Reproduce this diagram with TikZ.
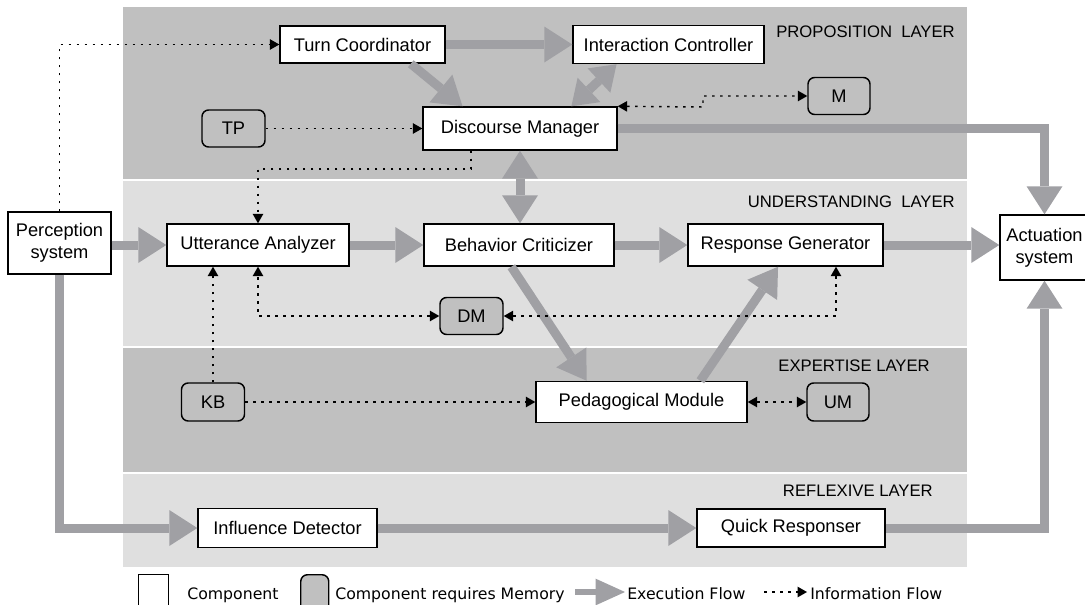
\documentclass[tikz,border=0pt]{standalone}
\usepackage{fontspec}
\setmainfont{Liberation Sans}
\newfontfamily\legendfont{DejaVu Sans}
\usetikzlibrary{arrows.meta,calc}
\definecolor{layerdark}{HTML}{C0C0C0}
\definecolor{layerlight}{HTML}{DFDFDF}
\definecolor{flowgray}{HTML}{A0A0A4}
\definecolor{memgray}{HTML}{C0C0C0}
\begin{document}
\begin{tikzpicture}[x=0.75pt,y=-0.75pt,
  comp/.style n args={2}{draw=black, fill=white, line width=1.1pt, inner sep=0pt,
    minimum width=#1*0.75pt, minimum height=#2*0.75pt,
    font=\fontsize{13.7}{16.5}\selectfont, align=center},
  mem/.style n args={2}{comp={#1}{#2}, fill=memgray, rounded corners=5pt},
  layerlabel/.style={anchor=base east, inner sep=0pt, font=\fontsize{12.5}{15}\selectfont},
  flowtip/.tip={Triangle[length=21pt,width=27pt,line width=0pt]},
  flow/.style={draw=flowgray, line width=6.75pt, line join=miter, -flowtip},
  flowboth/.style={flow, flowtip-flowtip},
  shorttip/.tip={Triangle[length=18pt,width=25pt,line width=0pt]},
  infotip/.tip={Triangle[length=7pt,width=8pt,line width=0pt]},
  info/.style={draw=black, line width=1.1pt, dash pattern=on 2pt off 4pt, -infotip},
  infoboth/.style={info, infotip-infotip},
  legendtext/.style={anchor=base west, inner sep=0pt, font=\legendfont\fontsize{11.8}{14}\selectfont}
]
\useasboundingbox (0,0) rectangle (1085,604);

% layers
\fill[layerdark]  (123,7)   rectangle (967,179);
\fill[layerlight] (123,181) rectangle (967,346);
\fill[layerdark]  (123,348) rectangle (967,472);
\fill[layerlight] (123,474) rectangle (967,567);

\node[layerlabel] (labP) at (955,37)  {PROPOSITION\ \ LAYER};
\node[layerlabel] (labU) at (955,207) {UNDERSTANDING\ \ LAYER};
\node[layerlabel] (labE) at (930,371) {EXPERTISE LAYER};
\node[layerlabel] (labR) at (933,496) {REFLEXIVE LAYER};

% components
\node[comp={165}{37}] (TC)  at (362.5,44.5)  {Turn Coordinator};
\node[comp={191}{38}] (IC)  at (668.5,44.5)  {Interaction Controller};
\node[mem={62}{37}]   (M)   at (839,96)      {M};
\node[mem={63}{37}]   (TP)  at (233.5,128.5) {TP};
\node[comp={194}{43}] (DM)  at (520,128.5)   {Discourse Manager};
\node[comp={103}{62}] (PS)  at (59.5,243)    {Perception\\system};
\node[comp={182}{42}] (UA)  at (258,245)     {Utterance Analyzer};
\node[comp={190}{42}] (BC)  at (519,245)     {Behavior Criticizer};
\node[comp={195}{42}] (RG)  at (785.5,245)   {Response Generator};
\node[comp={89}{65}]  (Act) at (1044.5,247.5){Actuation\\system};
\node[mem={63}{37}]   (DMem) at (471.5,316)  {DM};
\node[mem={63}{38}]   (KB)  at (213,402)     {KB};
\node[comp={211}{41}] (PM)  at (641.5,402)   {Pedagogical Module};
\node[mem={62}{38}]   (UM)  at (838,402)     {UM};
\node[comp={179}{39}] (ID)  at (287.5,528)   {Influence Detector};
\node[comp={188}{38}] (QR)  at (791,528)     {Quick Responser};

% execution flow
\draw[flow] (TC.east) -- (IC.west);
\draw[flow] ($(TC.south west)!0.79!(TC.south east)$) -- ($(DM.north west)!0.206!(DM.north east)$);
\draw[flow, shorttip-shorttip] ($(DM.north west)!0.763!(DM.north east)$) -- ($(IC.south west)!0.23!(IC.south east)$);
\draw[flow] (DM.east) -| (Act.north);
\draw[flowboth] (DM.south) -- (DM.south |- BC.north);
\draw[flow] (PS.east |- UA.west) -- (UA.west);
\draw[flow] (UA.east) -- (BC.west);
\draw[flow] (BC.east) -- (RG.west);
\draw[flow] (RG.east) -- (RG.east -| Act.west);
\draw[flow] ($(BC.south west)!0.46!(BC.south east)$) -- ($(PM.north west)!0.242!(PM.north east)$);
\draw[flow] ($(PM.north west)!0.777!(PM.north east)$) -- ($(RG.south west)!0.462!(RG.south east)$);
\draw[flow] (PS.south) |- (ID.west);
\draw[flow] (ID.east) -- (QR.west);
\draw[flow] (QR.east) -| (Act.south);

% information flow
\coordinate (dmx) at (471,169);
\coordinate (mx)  at (703,107);
\coordinate (rgx) at (836,0);
\draw[info] (PS.north) |- (TC.west);
\draw[info] (TP.east) -- (TP.east -| DM.west);
\draw[infoboth] (DM.north east) -- (mx) |- (M.west);
\draw[info] (DM.south -| dmx) -- (dmx) -| (UA.north);
\draw[infoboth] (DMem.west) -| (UA.south);
\draw[info] (KB.north) -- (KB.north |- UA.south);
\draw[info] (KB.east) -- (PM.west);
\draw[infoboth] (DMem.east) -| (RG.south -| rgx);
\draw[infoboth] (PM.east) -- (UM.west);

% legend
\node[draw=black, fill=white, line width=1.1pt, inner sep=0pt, anchor=north west,
  minimum width=30*0.75pt, minimum height=40*0.75pt] (legC) at (138,574) {};
\node[legendtext] (legCt) at (187,599) {Component};
\node[draw=black, fill=memgray, line width=1.1pt, inner sep=0pt, anchor=north west,
  rounded corners=5pt, minimum width=28*0.75pt, minimum height=40*0.75pt] (legM) at (300,574) {};
\node[legendtext] (legMt) at (335,599) {Component requires Memory};
\coordinate (legFa) at (575,592);
\coordinate (legFb) at (625,592);
\draw[draw=flowgray, line width=4.5pt, -{Triangle[length=22pt,width=20pt,line width=0pt]}] (legFa) -- (legFb);
\node[legendtext] (legFt) at (627,599) {Execution Flow};
\coordinate (legIa) at (764,592);
\coordinate (legIb) at (807,592);
\draw[info] (legIa) -- (legIb);
\node[legendtext] (legIt) at (810,599) {Information Flow};
\end{tikzpicture}
\end{document}
